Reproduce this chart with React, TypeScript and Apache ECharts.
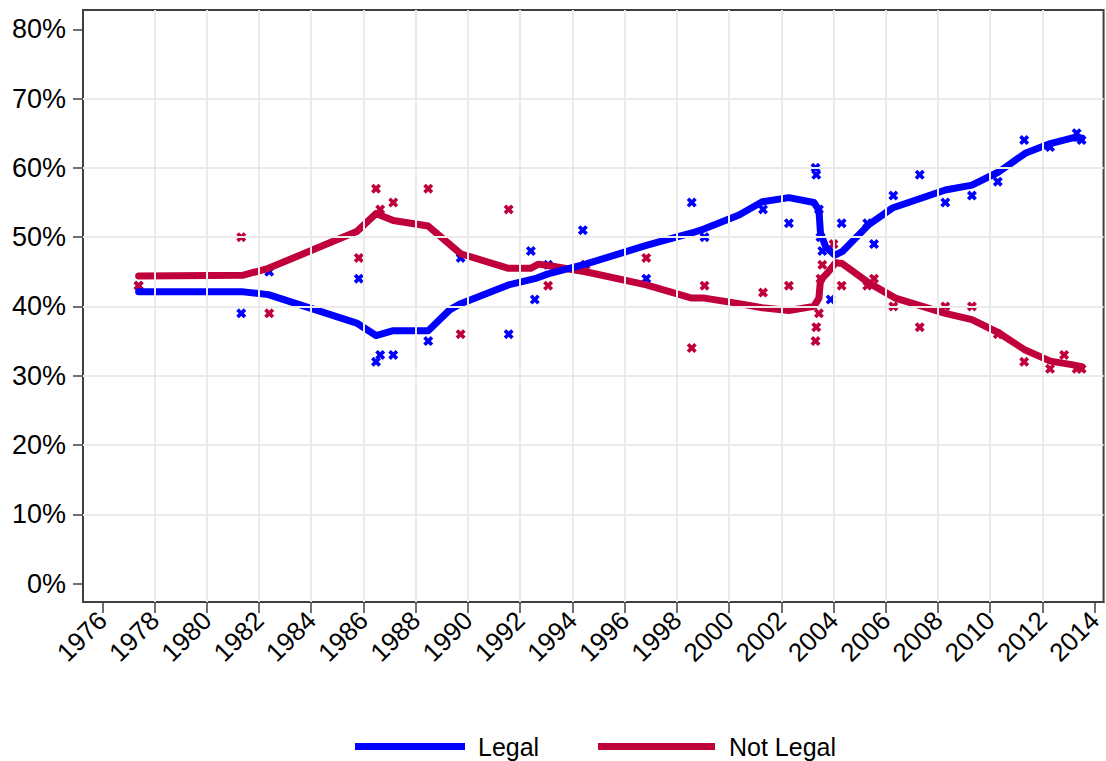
import React, { useEffect, useRef } from "react";
import * as echarts from "echarts";

// ---- Data ----
const yearTicks = [1976, 1978, 1980, 1982, 1984, 1986, 1988, 1990, 1992, 1994, 1996, 1998, 2000, 2002, 2004, 2006, 2008, 2010, 2012, 2014];
const percentTicks = [0, 10, 20, 30, 40, 50, 60, 70, 80];
const gridYears = [1978, 1980, 1982, 1984, 1986, 1988, 1990, 1992, 1994, 1996, 1998, 2000, 2002, 2004, 2006, 2008, 2010, 2012];
const gridPercents = [10, 20, 30, 40, 50, 60, 70];

// smoothed trend lines [year, %]
const legalTrend: [number, number][] = [
  [1977.39, 42.1], [1981.4, 42.1], [1982.36, 41.7], [1985.74, 37.6], [1986.48, 35.8],
  [1987.14, 36.5], [1988.48, 36.5], [1989.3, 39.5], [1989.72, 40.4], [1991.55, 43.1],
  [1992.56, 44.0], [1993.07, 44.7], [1994.5, 46.1], [1996.83, 48.8], [1998.57, 50.6],
  [1999.06, 51.2], [2000.38, 53.2], [2001.27, 55.1], [2002.29, 55.7], [2003.25, 55.0],
  [2003.44, 53.9], [2003.5, 50.6], [2003.7, 48.6], [2004.05, 47.4], [2004.33, 47.9],
  [2005.35, 51.8], [2006.25, 54.2], [2008.28, 56.8], [2009.3, 57.5], [2010.32, 59.4],
  [2011.34, 62.1], [2012.3, 63.5], [2013.12, 64.3], [2013.5, 64.3],
];
const notLegalTrend: [number, number][] = [
  [1977.39, 44.4], [1981.4, 44.5], [1982.36, 45.5], [1985.74, 50.8], [1986.48, 53.4],
  [1987.14, 52.4], [1988.48, 51.6], [1989.72, 47.6], [1991.55, 45.5], [1992.4, 45.5],
  [1992.7, 46.1], [1993.07, 45.9], [1994.5, 45.0], [1996.83, 43.1], [1998.57, 41.2],
  [1999.06, 41.2], [2000.38, 40.4], [2001.27, 39.8], [2002.29, 39.4], [2003.25, 40.0],
  [2003.44, 41.2], [2003.5, 43.8], [2003.76, 44.8], [2004.08, 46.3], [2004.33, 46.2],
  [2005.35, 43.4], [2006.37, 41.2], [2008.28, 39.0], [2009.3, 38.1], [2010.32, 36.2],
  [2011.34, 33.7], [2012.3, 32.1], [2013.12, 31.6], [2013.5, 31.3],
];

// individual poll results [year, %]
const legalPolls: [number, number][] = [
  [1977.39, 43], [1981.32, 39], [1982.39, 45], [1985.82, 44], [1986.48, 32], [1986.64, 33],
  [1987.14, 33], [1988.48, 35], [1989.72, 47], [1991.56, 36], [1992.41, 48], [1992.56, 41],
  [1993.07, 46], [1994.4, 51], [1994.5, 46], [1996.83, 44], [1998.57, 55], [1999.06, 50],
  [2001.3, 54], [2002.29, 52], [2003.31, 60], [2003.34, 59], [2003.44, 54], [2003.5, 50],
  [2003.57, 48], [2003.89, 41], [2004.31, 52], [2005.29, 52], [2005.55, 49], [2006.29, 56],
  [2007.3, 59], [2008.28, 55], [2009.3, 56], [2010.29, 58], [2011.3, 64], [2012.29, 63],
  [2013.31, 65], [2013.5, 64],
];
const notLegalPolls: [number, number][] = [
  [1977.39, 43], [1981.32, 50], [1982.39, 39], [1985.82, 47], [1986.48, 57], [1986.64, 54],
  [1987.14, 55], [1988.48, 57], [1989.72, 36], [1991.56, 54], [1993.07, 43], [1994.5, 46],
  [1996.83, 47], [1998.57, 34], [1999.06, 43], [2001.3, 42], [2002.29, 43], [2003.31, 35],
  [2003.34, 37], [2003.44, 39], [2003.5, 44], [2003.57, 46], [2004.0, 49], [2004.31, 43],
  [2005.29, 43], [2005.55, 44], [2006.29, 40], [2007.3, 37], [2008.28, 40], [2009.3, 40],
  [2010.29, 36], [2011.3, 32], [2012.29, 31], [2012.83, 33], [2013.31, 31], [2013.5, 31],
];

const BLUE = "#0000FF";
const RED = "#C0003A";
const FONT = "'Liberation Sans', Arial, Helvetica, sans-serif";
const CROSS =
  "path://M0,2.6 L2.6,0 L5,2.4 L7.4,0 L10,2.6 L7.6,5 L10,7.4 L7.4,10 L5,7.6 L2.6,10 L0,7.4 L2.4,5 Z";

export default function App() {
  const ref = useRef<HTMLDivElement>(null);

  useEffect(() => {
    document.body.style.margin = "0";
    const chart = echarts.init(ref.current!, null, { renderer: "svg" });
    const gridLineStyle = { color: "#EBEBEB", width: 2, type: "solid" as const };
    const legendText = { fontFamily: FONT, fontSize: 25, color: "#000", lineHeight: 25 };
    chart.setOption({
      animation: false,
      backgroundColor: "#FFFFFF",
      grid: {
        left: 83,
        top: 10,
        right: 1,
        bottom: 159,
        show: true,
        borderColor: "#404040",
        borderWidth: 2,
        containLabel: false,
      },
      legend: [
        {
          data: ["Legal"],
          left: 350,
          top: 729,
          icon: "rect",
          itemWidth: 110,
          itemHeight: 7,
          textStyle: { ...legendText, padding: [0, 0, 0, 8] },
        },
        {
          data: ["Not Legal"],
          left: 593,
          top: 729,
          icon: "rect",
          itemWidth: 117,
          itemHeight: 7,
          textStyle: { ...legendText, padding: [0, 0, 0, 9] },
        },
      ],
      xAxis: {
        type: "value",
        min: 1975.26,
        max: 2014.34,
        axisLine: { show: true, onZero: false, lineStyle: { color: "#404040", width: 2 } },
        axisTick: { show: true, length: 11, customValues: yearTicks, lineStyle: { color: "#404040", width: 1.5 } },
        axisLabel: {
          customValues: yearTicks,
          rotate: 45,
          margin: 14,
          fontFamily: FONT,
          fontSize: 26,
          color: "#000",
          formatter: (v: number) => String(v),
        },
        splitLine: { show: false },
      },
      yAxis: {
        type: "value",
        min: -2.66,
        max: 82.78,
        axisLine: { show: true, onZero: false, lineStyle: { color: "#404040", width: 2 } },
        axisTick: { show: true, length: 10, customValues: percentTicks, lineStyle: { color: "#404040", width: 1.5 } },
        axisLabel: {
          customValues: percentTicks,
          margin: 17,
          fontFamily: FONT,
          fontSize: 27,
          color: "#000",
          formatter: (v: number) => `${v}%`,
        },
        splitLine: { show: false },
      },
      series: [
        {
          name: "gridlines",
          type: "line",
          data: [],
          z: 1,
          silent: true,
          markLine: {
            silent: true,
            symbol: "none",
            label: { show: false },
            lineStyle: gridLineStyle,
            emphasis: { disabled: true },
            data: [
              ...gridPercents.map((p) => ({ yAxis: p })),
              ...gridYears.map((y) => ({ xAxis: y })),
            ],
          },
        },
        {
          name: "Legal polls",
          type: "scatter",
          data: legalPolls,
          symbol: CROSS,
          symbolSize: 10,
          itemStyle: { color: BLUE, opacity: 1 },
          z: 2,
        },
        {
          name: "Not Legal polls",
          type: "scatter",
          data: notLegalPolls,
          symbol: CROSS,
          symbolSize: 10,
          itemStyle: { color: RED, opacity: 1 },
          z: 2,
        },
        {
          name: "Not Legal",
          type: "line",
          data: notLegalTrend,
          showSymbol: false,
          symbol: "none",
          color: RED,
          lineStyle: { color: RED, width: 7, join: "round", cap: "round" },
          z: 3,
        },
        {
          name: "Legal",
          type: "line",
          data: legalTrend,
          showSymbol: false,
          symbol: "none",
          color: BLUE,
          lineStyle: { color: BLUE, width: 7, join: "round", cap: "round" },
          z: 4,
        },
      ],
    });
    return () => chart.dispose();
  }, []);

  return <div ref={ref} style={{ width: 1106, height: 761 }} />;
}
